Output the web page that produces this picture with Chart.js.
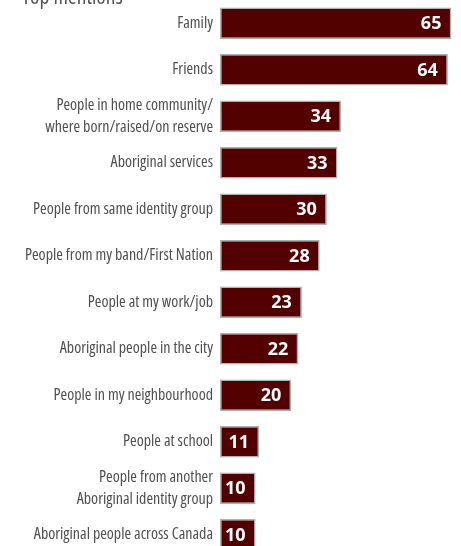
<!DOCTYPE html>
<html>
<head>
<meta charset="utf-8">
<script src="https://cdn.jsdelivr.net/npm/chart.js@4/dist/chart.umd.min.js"></script>
<style>
  html, body { margin: 0; padding: 0; background: #fff; overflow: hidden; }
  #wrap { position: relative; width: 461px; height: 558px; }
</style>
</head>
<body>
<div id="wrap"><canvas id="myChart"></canvas></div>
<script>
const categories = [
    'Family',
    'Friends',
    ['People in home community/', 'where born/raised/on reserve'],
    'Aboriginal services',
    'People from same identity group',
    'People from my band/First Nation',
    'People at my work/job',
    'Aboriginal people in the city',
    'People in my neighbourhood',
    'People at school',
    ['People from another', 'Aboriginal identity group'],
    'Aboriginal people across Canada'
];
const mentions = [65, 64, 34, 33, 30, 28, 23, 22, 20, 11, 10, 10];
const titleText = 'Top mentions';

// value labels inside the bar end
const valueLabels = {
    id: 'valueLabels',
    afterDatasetsDraw(chart) {
        const ctx = chart.ctx;
        const meta = chart.getDatasetMeta(0);
        ctx.save();
        ctx.font = 'bold 18px "Open Sans"';
        ctx.fillStyle = '#ffffff';
        ctx.textAlign = 'right';
        ctx.textBaseline = 'middle';
        meta.data.forEach((bar, i) => {
            ctx.fillText(String(mentions[i]), bar.x - 10, bar.y + 1);
        });
        ctx.restore();
    }
};

// title cut off at the top edge
const topTitle = {
    id: 'topTitle',
    afterDraw(chart) {
        const ctx = chart.ctx;
        ctx.save();
        ctx.font = 'condensed 21.5px "Open Sans"';
        ctx.fillStyle = '#555555';
        ctx.textAlign = 'left';
        ctx.textBaseline = 'alphabetic';
        ctx.fillText(titleText, 22, 4);
        ctx.restore();
    }
};

const ctx = document.getElementById('myChart');
new Chart(ctx, {
    type: 'bar',
    data: {
        labels: categories,
        datasets: [{
            data: mentions,
            backgroundColor: '#520000',
            borderColor: '#b0b0b0',
            borderWidth: 1.5,
            borderSkipped: false,
            barPercentage: 0.68,
            categoryPercentage: 1
        }]
    },
    options: {
        indexAxis: 'y',
        responsive: true,
        maintainAspectRatio: false,
        animation: false,
        layout: { padding: { top: 0, bottom: 0, left: 0, right: 6 } },
        plugins: {
            legend: { display: false },
            tooltip: { enabled: false }
        },
        scales: {
            x: {
                display: false,
                min: 0,
                max: 66
            },
            y: {
                afterFit(scale) {
                    scale.width = 220;
                    scale.paddingTop = 0;
                    scale.paddingBottom = 0;
                },
                grid: { display: false, drawTicks: false },
                border: { display: false },
                ticks: {
                    autoSkip: false,
                    padding: 7,
                    color: '#4f4f4f',
                    font: { family: '"Open Sans"', weight: 'condensed', size: 16, lineHeight: 1.4 }
                }
            }
        }
    },
    plugins: [valueLabels, topTitle]
});
</script>
</body>
</html>
